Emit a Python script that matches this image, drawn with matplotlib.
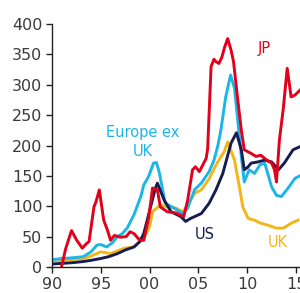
import matplotlib
matplotlib.use("Agg")
import matplotlib.pyplot as plt

# values (index, 1990 = base)
jp_years = [1991.0, 1991.4, 1992.0, 1992.5, 1993.1, 1993.5, 1993.8, 1994.3, 1994.5,
            1994.85, 1995.3, 1995.7, 1996.0, 1996.4, 1997.0, 1997.6, 1998.0, 1998.4,
            1999.0, 1999.4, 1999.9, 2000.3, 2000.8, 2001.1, 2001.8, 2002.7, 2003.5,
            2003.9, 2004.4, 2004.7, 2005.1, 2005.8, 2005.95, 2006.3, 2006.6, 2006.8,
            2007.1, 2007.4, 2007.65, 2008.0, 2008.35, 2008.6, 2009.0, 2009.4, 2009.7,
            2010.4, 2010.9, 2011.4, 2012.0, 2012.5, 2012.8, 2013.0, 2013.3, 2013.7,
            2014.1, 2014.5, 2014.9, 2015.4]
jp_vals = [2, 30, 60, 45, 31, 38, 42, 99, 107,
           127, 77, 60, 44, 52, 49, 50, 58, 55,
           44, 44, 80, 130, 127, 99, 91, 89, 83,
           110, 160, 165, 157, 179, 195, 330, 342, 338,
           335, 345, 360, 376, 357, 338, 280, 225, 193,
           187, 182, 184, 176, 171, 160, 140, 209, 261,
           327, 280, 283, 291]

eu_years = [1990.0, 1991.0, 1992.0, 1993.2, 1994.0, 1994.6, 1995.0, 1995.6, 1996.2,
            1996.7, 1997.2, 1997.7, 1998.4, 1999.1, 1999.4, 1999.9, 2000.4, 2000.7,
            2001.0, 2001.6, 2002.3, 2003.0, 2003.4, 2003.9, 2004.6, 2005.3, 2006.1,
            2006.6, 2007.0, 2007.3, 2007.8, 2008.3, 2008.7, 2009.0, 2009.4, 2009.7,
            2010.2, 2010.75, 2011.3, 2011.8, 2012.5, 2013.0, 2013.5, 2014.2, 2014.9,
            2015.4]
eu_vals = [12, 14, 15, 17, 25, 36, 37, 33, 40,
           50, 55, 64, 86, 116, 135, 149, 171, 172,
           155, 105, 99, 92, 88, 97, 127, 138, 157,
           176, 200, 225, 280, 316, 294, 247, 182, 140,
           160, 154, 168, 171, 132, 118, 116, 130, 146,
           150]

us_years = [1990.0, 1991.0, 1992.0, 1993.2, 1994.0, 1995.0, 1995.8, 1996.7, 1997.5,
            1998.4, 1999.0, 1999.4, 1999.8, 2000.1, 2000.6, 2000.8, 2001.5, 2002.2,
            2003.2, 2003.7, 2004.2, 2005.3, 2006.1, 2006.8, 2007.5, 2008.35, 2008.9,
            2009.4, 2009.7, 2010.1, 2010.4, 2011.1, 2011.8, 2012.5, 2013.2, 2013.8,
            2014.7, 2015.4]
us_vals = [5, 6, 7, 9, 11, 14, 17, 22, 28,
           33, 42, 55, 80, 99, 130, 138, 110, 91,
           83, 75, 80, 88, 105, 127, 154, 204, 221,
           193, 160, 165, 171, 173, 176, 173, 160, 171,
           193, 198]

uk_years = [1990.0, 1991.0, 1992.0, 1993.2, 1994.0, 1995.0, 1996.0, 1997.4, 1998.4,
            1999.4, 2000.0, 2000.3, 2001.1, 2001.8, 2002.7, 2003.4, 2003.9, 2004.6,
            2005.3, 2006.1, 2006.8, 2007.65, 2008.0, 2008.7, 2009.2, 2009.55, 2010.1,
            2010.75, 2011.4, 2012.1, 2013.0, 2013.7, 2014.5, 2015.2]
uk_vals = [10, 11, 12, 14, 18, 25, 22, 31, 33,
           47, 66, 91, 102, 99, 97, 91, 102, 121,
           127, 145, 168, 190, 206, 176, 132, 99, 80,
           77, 72, 69, 64, 64, 72, 77]

yticks = [0, 50, 100, 150, 200, 250, 300, 350, 400]
xticks = [1990, 1995, 2000, 2005, 2010, 2015]
xlabels = ["90", "95", "00", "05", "10", "15"]

RED = "#e2001a"
BLUE = "#1cb5e8"
NAVY = "#161d50"
GOLD = "#f2b619"

fig = plt.figure(figsize=(3.0, 2.93), dpi=100)
ax = fig.add_axes([0.1733, 0.0887, 0.8296, 0.8294])

ax.plot(uk_years, uk_vals, color=GOLD, lw=2.1)
ax.plot(eu_years, eu_vals, color=BLUE, lw=2.1)
ax.plot(us_years, us_vals, color=NAVY, lw=2.1)
ax.plot(jp_years, jp_vals, color=RED, lw=2.1)

ax.set_xlim(1990, 2015.5)
ax.set_ylim(0, 400)
ax.set_xticks(xticks)
ax.set_xticklabels(xlabels)
ax.set_yticks(yticks)

for s in ["top", "right"]:
    ax.spines[s].set_visible(False)
for s in ["left", "bottom"]:
    ax.spines[s].set_color("#222222")
    ax.spines[s].set_linewidth(1)
ax.tick_params(axis="both", direction="out", length=4, width=1, color="#222222",
               labelsize=11.5, labelcolor="#3a3a3a", pad=3)

# series labels
ax.text(2011.7, 360, "JP", color=RED, fontsize=10.5, ha="center", va="center")
ax.text(1999.3, 206, "Europe ex\nUK", color=BLUE, fontsize=10.5, ha="center",
        va="center", linespacing=1.3)
ax.text(2005.7, 53, "US", color=NAVY, fontsize=10.5, ha="center", va="center")
ax.text(2013.1, 40, "UK", color=GOLD, fontsize=10.5, ha="center", va="center")

fig.savefig("out.png", dpi=100)
